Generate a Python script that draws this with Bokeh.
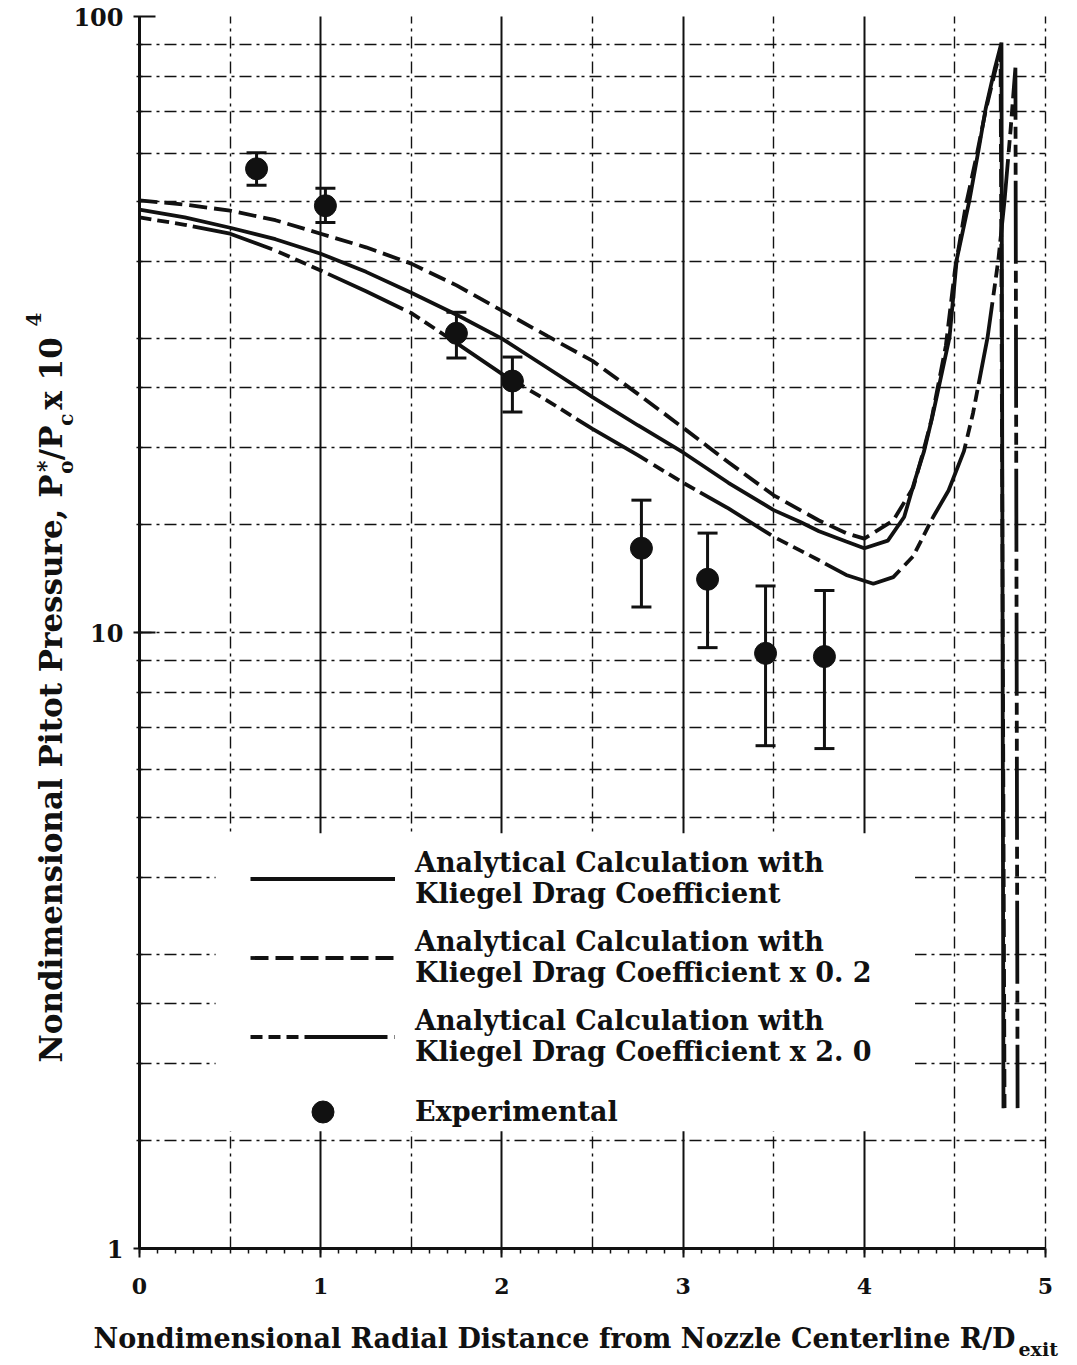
import math

from bokeh.embed import file_html
from bokeh.models import (BoxAnnotation, ColumnDataSource, FixedTicker, Grid, Label,
                          Legend, LegendItem, Range1d, TeeHead, Whisker)
from bokeh.plotting import figure
from bokeh.resources import INLINE

# ---- data -------------------------------------------------------------------
# Radial station R/D_exit and nondimensional pitot pressure (P*o/Pc x 1e4)

# analytical calculation, Kliegel drag coefficient
kliegel_x = [0.0, 0.25, 0.5, 0.75, 1.0, 1.25, 1.5, 1.75, 2.0, 2.25, 2.5, 2.75, 3.0,
             3.25, 3.5, 3.65, 3.75, 3.9, 4.0, 4.13, 4.22, 4.28, 4.33, 4.38, 4.47,
             4.51, 4.58, 4.63, 4.67, 4.72, 4.757, 4.768]
kliegel_p = [48.6, 47.2, 45.4, 43.5, 41.2, 38.5, 35.6, 32.8, 30.0, 26.9, 24.1, 21.7,
             19.6, 17.5, 15.8, 15.1, 14.6, 14.05, 13.7, 14.1, 15.4, 17.7, 19.7, 22.7,
             30.1, 40.3, 50.3, 60.6, 70.9, 82.3, 90.7, 1.69]

# analytical calculation, Kliegel drag coefficient x 0.2
low_cd_x = [0.0, 0.25, 0.5, 0.75, 1.0, 1.25, 1.5, 1.75, 2.0, 2.25, 2.5, 2.75, 3.0,
            3.25, 3.5, 3.75, 3.9, 4.0, 4.16, 4.27, 4.32, 4.37, 4.45, 4.5, 4.56,
            4.62, 4.67, 4.72, 4.752, 4.774]
low_cd_p = [50.3, 49.5, 48.4, 46.7, 44.4, 42.2, 39.7, 36.6, 33.3, 30.3, 27.6, 24.4,
            21.5, 18.9, 16.7, 15.2, 14.5, 14.2, 15.2, 17.2, 19.4, 22.1, 29.2, 38.7,
            49.3, 59.5, 70.4, 81.1, 88.1, 1.69]

# analytical calculation, Kliegel drag coefficient x 2.0
high_cd_x = [0.0, 0.25, 0.5, 0.75, 1.0, 1.25, 1.5, 1.75, 2.0, 2.25, 2.5, 2.75, 3.0,
             3.25, 3.5, 3.75, 3.9, 4.05, 4.16, 4.27, 4.38, 4.465, 4.55, 4.6, 4.68,
             4.74, 4.774, 4.807, 4.834, 4.846]
high_cd_p = [47.2, 45.9, 44.4, 41.7, 38.7, 35.8, 33.0, 29.5, 26.3, 23.8, 21.4, 19.4,
             17.5, 15.9, 14.3, 13.1, 12.4, 12.0, 12.3, 13.3, 15.4, 17.0, 19.7, 22.7,
             30.1, 40.3, 50.3, 65.3, 82.6, 1.69]

# experimental pitot measurements with their scatter band
exp_x = [0.646, 1.026, 1.749, 2.058, 2.770, 3.135, 3.455, 3.780]
exp_p = [56.6, 49.3, 30.6, 25.6, 13.7, 12.2, 9.25, 9.14]
exp_hi = [60.1, 52.6, 33.1, 28.0, 16.4, 14.5, 11.9, 11.7]
exp_lo = [53.2, 46.3, 27.9, 22.8, 11.0, 9.45, 6.55, 6.48]

# axes
x_bounds = (0, 5)
y_bounds = (1, 100)
x_ticks = [0, 1, 2, 3, 4, 5]
x_minor = [i / 10 for i in range(51)]
x_solid_grid = [1, 2, 3, 4]
x_dash_grid = [0.5, 1.5, 2.5, 3.5, 4.5, 5]
y_ticks = [1, 10, 100]
y_tick_labels = ["1", "10", "100"]
y_grid = [1.5, 2, 2.5, 3, 4, 5, 6, 7, 8, 9, 10, 15, 20, 25, 30, 40, 50, 60, 70, 80, 90]

INK = "#111111"
SERIF = "DejaVu Serif"
DASH_DOT = "12 5 3 5"

# ---- page geometry: the data area sits inside a full-page frame ----------------
W, H = 1077, 1365
LEFT, BOTTOM = 139, 1248          # pixel position of x=0 and y=1
PX_PER_X = 181.2                  # pixels per unit of R/D
PX_PER_DECADE = 616.0             # pixels per decade of pressure

x_range = Range1d(-LEFT / PX_PER_X, (W - LEFT) / PX_PER_X)
y_range = Range1d(10 ** (-(H - BOTTOM) / PX_PER_DECADE), 10 ** (BOTTOM / PX_PER_DECADE))

p = figure(width=W, height=H, x_range=x_range, y_range=y_range,
           y_axis_type="log", output_backend="svg", toolbar_location=None,
           min_border=0, min_border_left=0, min_border_right=0,
           min_border_top=0, min_border_bottom=0)
p.outline_line_color = None
p.background_fill_color = "white"
p.border_fill_color = "white"

# ---- grid ---------------------------------------------------------------------
p.xgrid.ticker = FixedTicker(ticks=x_solid_grid)
p.xgrid.grid_line_color = INK
p.xgrid.grid_line_width = 2
p.ygrid.ticker = FixedTicker(ticks=y_grid)
p.ygrid.grid_line_color = INK
p.ygrid.grid_line_width = 1.4
p.ygrid.grid_line_dash = DASH_DOT
half_grid = Grid(dimension=0, ticker=FixedTicker(ticks=x_dash_grid),
                 grid_line_color=INK, grid_line_width=1.4, grid_line_dash=DASH_DOT)
p.add_layout(half_grid)
p.xgrid.cross_bounds = y_bounds
half_grid.cross_bounds = y_bounds
p.ygrid.cross_bounds = x_bounds

# blank paper behind the key
p.add_layout(BoxAnnotation(left=0.42, right=4.28, bottom=1.55, top=4.72,
                           fill_color="white", fill_alpha=1.0, line_color=None,
                           level="underlay"))

# ---- axes, pinned at x=0 and y=1 ----------------------------------------------
p.xaxis.fixed_location = y_bounds[0]
p.yaxis.fixed_location = x_bounds[0]
p.xaxis.bounds = x_bounds
p.yaxis.bounds = y_bounds
p.xaxis.ticker = FixedTicker(ticks=x_ticks, minor_ticks=x_minor)
p.yaxis.ticker = FixedTicker(ticks=y_ticks, minor_ticks=y_grid)
p.yaxis.major_label_overrides = {t: s for t, s in zip(y_ticks, y_tick_labels)}
for ax in (p.xaxis[0], p.yaxis[0]):
    ax.axis_line_width = 3
    ax.axis_line_color = INK
    ax.major_tick_line_color = INK
    ax.minor_tick_line_color = INK
    ax.major_tick_line_width = 2
    ax.minor_tick_line_width = 1.5
    ax.major_label_text_font = SERIF
    ax.major_label_text_color = INK
    ax.major_label_text_font_style = "bold"
p.xaxis.major_tick_out = 9
p.xaxis.major_tick_in = 0
p.xaxis.minor_tick_out = 5
p.xaxis.minor_tick_in = 0
p.xaxis.major_label_text_font_size = "22px"
p.xaxis.major_label_standoff = 20
p.yaxis.major_tick_in = 16
p.yaxis.major_tick_out = 6
p.yaxis.minor_tick_in = 3
p.yaxis.minor_tick_out = 3
p.yaxis.major_label_text_font_size = "24px"
p.yaxis.major_label_standoff = 10

# ---- curves -------------------------------------------------------------------
r_k = p.line(kliegel_x, kliegel_p, line_color=INK, line_width=3.8)
r_lo = p.line(low_cd_x, low_cd_p, line_color=INK, line_width=3.8, line_dash="18 7")
r_hi = p.line(high_cd_x, high_cd_p, line_color=INK, line_width=3.8,
              line_dash="12 6 12 6 12 6 83 7")

exp_src = ColumnDataSource(data=dict(x=exp_x, p=exp_p, hi=exp_hi, lo=exp_lo))
p.add_layout(Whisker(source=exp_src, base="x", upper="hi", lower="lo",
                     line_color=INK, line_width=3,
                     upper_head=TeeHead(size=20, line_width=3, line_color=INK),
                     lower_head=TeeHead(size=20, line_width=3, line_color=INK)))
r_exp = p.scatter("x", "p", source=exp_src, size=22, marker="circle",
                  fill_color=INK, line_color=INK)

# ---- key ----------------------------------------------------------------------
legend = Legend(items=[
    LegendItem(label="Analytical Calculation with\nKliegel Drag Coefficient",
               renderers=[r_k]),
    LegendItem(label="Analytical Calculation with\nKliegel Drag Coefficient x 0. 2",
               renderers=[r_lo]),
    LegendItem(label="Analytical Calculation with\nKliegel Drag Coefficient x 2. 0",
               renderers=[r_hi]),
    LegendItem(label="Experimental", renderers=[r_exp]),
], location=(250, 226))
legend.background_fill_alpha = 0
legend.border_line_color = None
legend.padding = 0
legend.margin = 0
legend.spacing = 17
legend.glyph_width = 145
legend.glyph_height = 55
legend.label_standoff = 20
legend.label_text_font = SERIF
legend.label_text_font_style = "bold"
legend.label_text_font_size = "27px"
legend.label_text_line_height = 1.1
legend.label_text_color = INK
p.add_layout(legend)

# ---- axis titles (screen pixels from the bottom-left corner) --------------------
title_style = dict(x_units="screen", y_units="screen", text_color=INK,
                   text_font=SERIF, text_font_style="bold", text_baseline="alphabetic")

p.add_layout(Label(x=1015, y=H - 1338,
                   text="Nondimensional Radial Distance from Nozzle Centerline R/D",
                   text_align="right", text_font_size="27px", **title_style))
p.add_layout(Label(x=1018, y=H - 1348, text="exit", text_align="left",
                   text_font_size="19px", **title_style))

up = math.pi / 2
base_x = 50          # baseline of the rotated title
top = 326            # upper end of the "x 10" group
p.add_layout(Label(x=base_x - 17, y=H - top, text="4", angle=up, text_align="left",
                   text_font_size="20px", **title_style))
p.add_layout(Label(x=base_x, y=H - top, text=" x 10", angle=up, text_align="right",
                   text_font_size="31px", **title_style))
p.add_layout(Label(x=base_x + 15, y=H - (top + 87), text="c", angle=up,
                   text_align="right", text_font_size="20px", **title_style))
p.add_layout(Label(x=base_x, y=H - (top + 99), text="/P", angle=up, text_align="right",
                   text_font_size="31px", **title_style))
p.add_layout(Label(x=base_x + 15, y=H - (top + 134), text="o", angle=up,
                   text_align="right", text_font_size="20px", **title_style))
p.add_layout(Label(x=base_x - 6, y=H - (top + 134), text="*", angle=up,
                   text_align="right", text_font_size="22px", **title_style))
p.add_layout(Label(x=base_x, y=H - (top + 148), text="Nondimensional Pitot Pressure, P",
                   angle=up, text_align="right", text_font_size="31px", **title_style))

open("out.html", "w").write(file_html(p, INLINE))
